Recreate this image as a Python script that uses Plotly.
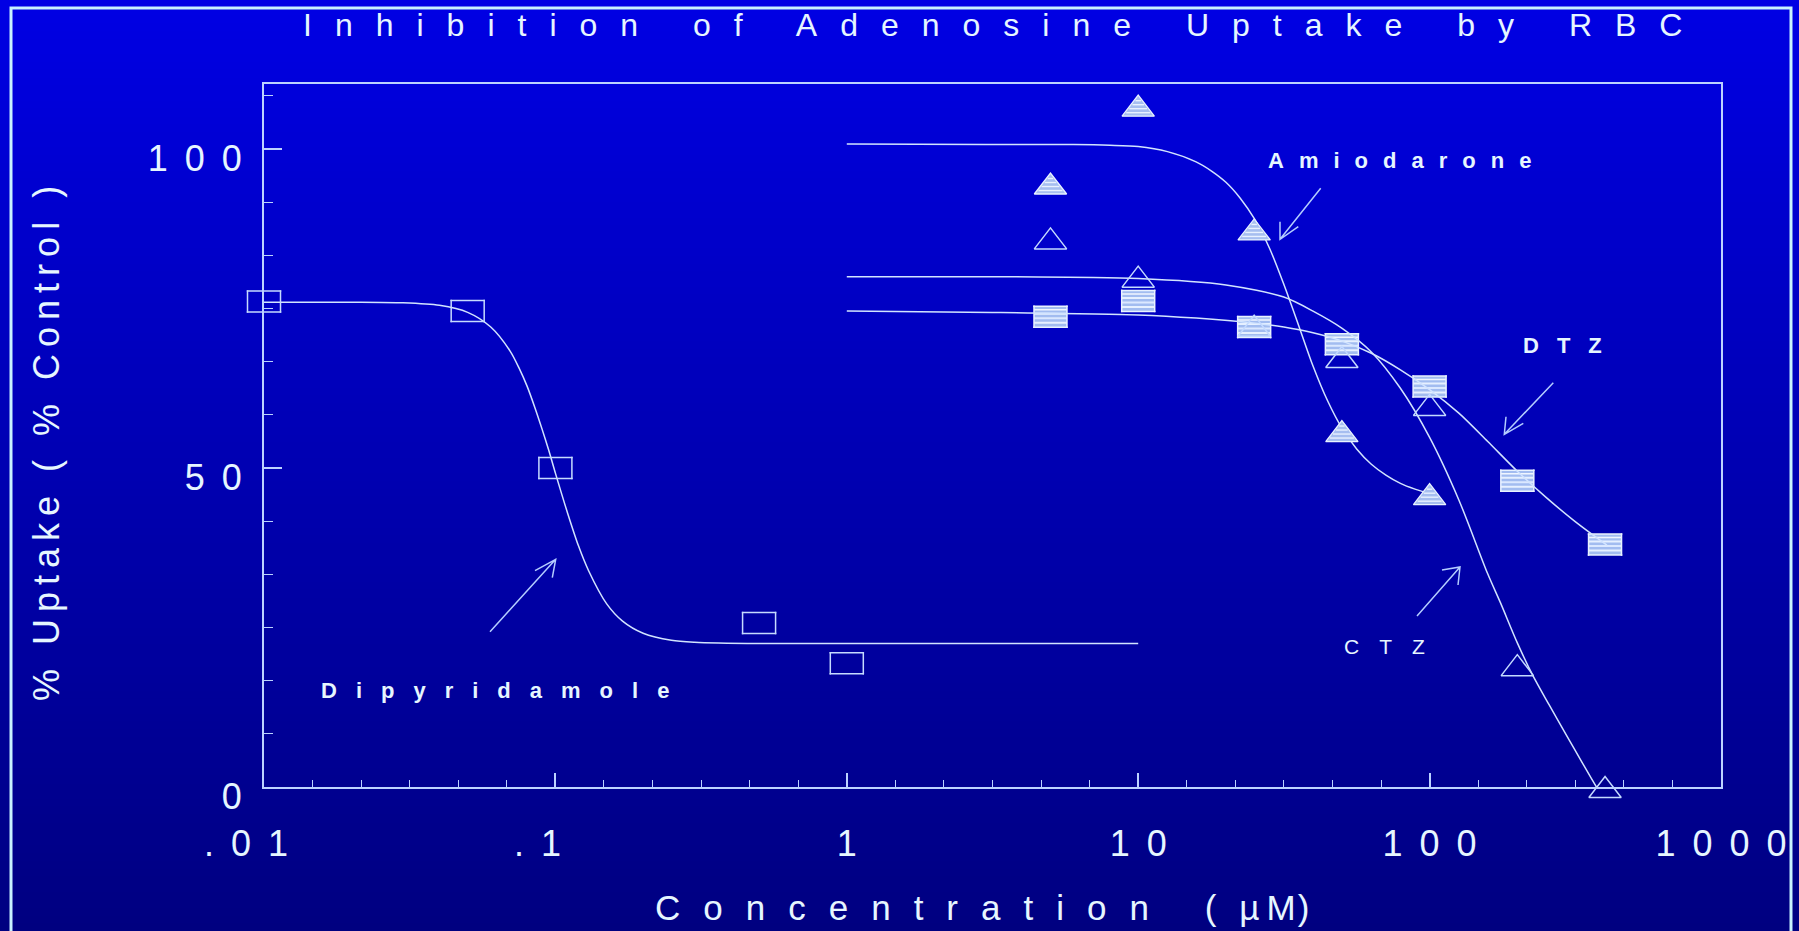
import plotly.graph_objects as go

# ---------------------------------------------------------------- data
# Dipyridamole (open rectangles) and its fitted curve
dip_conc = [0.01, 0.05, 0.1, 0.5, 1.0]
dip_uptake = [76.1, 74.6, 50.0, 25.7, 19.4]
dip_fit_conc = [0.01, 0.02, 0.03, 0.04, 0.05, 0.06, 0.07, 0.075, 0.08, 0.085, 0.09, 0.095,
                0.1, 0.11, 0.12, 0.13, 0.15, 0.17, 0.2, 0.25, 0.3, 0.5, 1.0, 10.0]
dip_fit_uptake = [76.0, 76.0, 75.9, 75.5, 74.4, 72.1, 68.3, 65.7, 62.8, 59.5, 56.1, 52.7,
                  49.2, 43.0, 37.8, 33.9, 28.7, 26.0, 24.1, 23.0, 22.7, 22.5, 22.5, 22.5]

# Amiodarone (filled triangles)
ami_conc = [5, 10, 25, 50, 100]
ami_uptake = [94.6, 106.8, 87.4, 55.8, 45.9]
ami_fit_conc = [1, 3, 6, 8, 10, 12.6, 15.8, 17.8, 20.0, 22.4, 25.1, 28.2, 31.6, 35.5, 39.8,
                44.7, 50.1, 56.2, 63.1, 70.8, 79.4, 89.1, 100]
ami_fit_uptake = [100.8, 100.7, 100.7, 100.6, 100.4, 99.6, 98.0, 96.6, 94.8, 92.3, 89.0, 84.5,
                  78.8, 72.4, 66.0, 60.5, 56.2, 53.0, 50.6, 48.9, 47.6, 46.7, 46.0]

# CTZ (open triangles)
ctz_conc = [5, 10, 25, 50, 100, 200, 400]
ctz_uptake = [86.0, 80.0, 72.3, 67.4, 59.9, 19.1, 0.0]
ctz_fit_conc = [1, 3.16, 10, 20, 31.6, 39.8, 50.1, 63.1, 79.4, 100, 126, 158, 175, 200, 226,
                257, 295, 339, 385, 406]
ctz_fit_uptake = [80.0, 80.0, 79.7, 78.7, 76.8, 74.6, 71.9, 68.2, 62.5, 54.8, 45.0, 33.5, 28.9,
                  22.6, 17.5, 12.9, 8.1, 3.3, -1.0, -2.9]

# DTZ (filled rectangles)
dtz_conc = [5, 10, 25, 50, 100, 200, 400]
dtz_uptake = [73.7, 76.2, 72.1, 69.4, 62.8, 48.0, 38.0]
dtz_fit_conc = [1, 3.16, 10, 15.8, 25.1, 31.6, 39.8, 50.1, 63.1, 79.4, 100, 126, 158, 200,
                251, 316, 406]
dtz_fit_uptake = [74.6, 74.4, 74.0, 73.5, 72.7, 72.1, 71.2, 69.9, 68.0, 65.4, 62.3, 58.6, 54.2,
                  49.5, 45.4, 41.6, 37.9]

# axis ticks
x_tick_vals = [0.01, 0.1, 1, 10, 100, 1000]
x_tick_text = [".01", ".1", "1", "10", "100", "1000"]
y_tick_vals = [0, 50, 100]
y_tick_text = ["0", "50", "100"]

# ---------------------------------------------------------------- layout geometry
W, H = 1799, 931
ML, MR, MT, MB = 264, 78, 84, 144
PW, PH = W - ML - MR, H - MT - MB
X_LOG = (-2, 3)
Y_MAX = 110.2

TXT = "#e6f6ff"
LINE = "#d2e4ff"
FRAME = "#bcd2ff"
FONT = "Liberation Sans, Arial, sans-serif"
LINE_SYM = 1.4   # plotly line-ew symbols are 1.4x their marker size long


def paper(px, py):
    return (px - ML) / PW, (H - MB - py) / PH


def spaced(text, ls, bold=False, trail=False):
    """letter-spaced text; the last glyph carries no trailing space unless asked"""
    body, last = (text, "") if trail else (text[:-1], text[-1])
    s = f'<span style="letter-spacing:{ls}px">{body}</span>{last}'
    return f"<b>{s}</b>" if bold else s


def bar(xs, ys, length, color, width, offset=(0, 0)):
    """horizontal / vertical bars drawn with the line-ew symbol, offset from the point in px.
    offset = (dx, dy): only one of them non-zero; dy>0 moves down, dx>0 moves right."""
    dx, dy = offset
    if dx:
        angle, standoff = (270, dx) if dx > 0 else (90, -dx)
    else:
        angle, standoff = (0, dy) if dy >= 0 else (180, -dy)
    return go.Scatter(x=xs, y=ys, mode="markers", cliponaxis=False, hoverinfo="skip",
                      marker=dict(symbol="line-ew", size=length / LINE_SYM, color=color,
                                  angle=angle, standoff=standoff,
                                  line=dict(color=color, width=width)))


# rectangle markers (width x height in px)
RW, RH = 33, 21


def rect_traces(xs, ys, edge_color, edge_w, fill=None, stripes=()):
    out = []
    if fill:
        out.append(bar(xs, ys, RW, fill, RH))
    for off, col, w in stripes:
        out.append(bar(xs, ys, RW, col, w, (0, off)))
    out.append(bar(xs, ys, RW + edge_w, edge_color, edge_w, (0, -RH / 2)))
    out.append(bar(xs, ys, RW + edge_w, edge_color, edge_w, (0, RH / 2)))
    out.append(bar(xs, ys, RH + edge_w, edge_color, edge_w, (-RW / 2, 0)))
    out.append(bar(xs, ys, RH + edge_w, edge_color, edge_w, (RW / 2, 0)))
    return out


# triangle markers: plotly's triangle-up sits r/4 above its anchor, so a standoff
# of size/8 pushes it down to centre the glyph on its value
TRI_SIZE = 28
TRI_W, TRI_H = 1.155 * TRI_SIZE, 0.75 * TRI_SIZE


def tri_traces(xs, ys, color, filled, stripe_color=None):
    marker = dict(symbol="triangle-up" if filled else "triangle-up-open", size=TRI_SIZE,
                  angle=0, standoff=TRI_SIZE / 8, color=color,
                  line=dict(color="#e8f2ff" if filled else color, width=1.3 if filled else 1.5))
    out = [go.Scatter(x=xs, y=ys, mode="markers", cliponaxis=False, hoverinfo="skip",
                      marker=marker)]
    if filled:
        for d in (7, 3, -1, -5):          # px below the centre
            t = TRI_H / 2 - d                # distance above the base
            w = TRI_W * (1 - t / TRI_H) - 3
            out.append(bar(xs, ys, w, stripe_color, 1.4, (0, d)))
    return out


fig = go.Figure()
curve_style = dict(color=LINE, width=1.5, shape="spline", smoothing=0.8)

fig.add_trace(go.Scatter(x=dip_fit_conc, y=dip_fit_uptake, mode="lines", line=curve_style))

for tr in rect_traces(dtz_conc, dtz_uptake, "#e8f2ff", 1.5, fill="#a2bcf0",
                      stripes=[(6, "#e6f0ff", 2), (1.5, "#dbe8ff", 2),
                               (-3, "#e6f0ff", 2), (-7, "#f0f6ff", 1.5)]):
    fig.add_trace(tr)
for tr in rect_traces(dip_conc, dip_uptake, "#c6dbff", 1.5):
    fig.add_trace(tr)

fig.add_trace(go.Scatter(x=ami_fit_conc, y=ami_fit_uptake, mode="lines", line=curve_style))
fig.add_trace(go.Scatter(x=ctz_fit_conc, y=ctz_fit_uptake, mode="lines", line=curve_style))
fig.add_trace(go.Scatter(x=dtz_fit_conc, y=dtz_fit_uptake, mode="lines", line=curve_style))

for tr in tri_traces(ami_conc, ami_uptake, "#a6bef0", True, stripe_color="#e8f1ff"):
    fig.add_trace(tr)
for tr in tri_traces(ctz_conc, ctz_uptake, "#c4daff", False):
    fig.add_trace(tr)

# ---------------------------------------------------------------- background, frame, arrows
shapes = []
N_BANDS = 120
top_rgb, bot_rgb = (0, 0, 228), (0, 0, 128)
x_left, x_right = paper(0, 0)[0], paper(W, 0)[0]
for i in range(N_BANDS):
    t = (i + 0.5) / N_BANDS
    c = tuple(round(a + (b - a) * t) for a, b in zip(top_rgb, bot_rgb))
    y_top = paper(0, H * i / N_BANDS)[1]
    y_bot = paper(0, H * (i + 1) / N_BANDS + 1)[1]
    shapes.append(dict(type="rect", xref="paper", yref="paper", x0=x_left, x1=x_right,
                       y0=y_bot, y1=y_top, fillcolor=f"rgb{c}", line=dict(width=0),
                       layer="below"))

bx0, by0 = paper(11, 8)
bx1, by1 = paper(1791, 950)
shapes.append(dict(type="rect", xref="paper", yref="paper", x0=bx0, x1=bx1, y0=by1, y1=by0,
                   line=dict(color="#c8f2ff", width=3), layer="above"))


def arrow_path(tail, tip, arm1, arm2):
    (ax, ay), (tx, ty), (a1x, a1y), (a2x, a2y) = [paper(*p) for p in (tail, tip, arm1, arm2)]
    return f"M{ax},{ay} L{tx},{ty} M{a1x},{a1y} L{tx},{ty} L{a2x},{a2y}"


arrows = [
    ((1320.7, 188.3), (1280.0, 239.3), (1280.0, 221.7), (1298.3, 226.7)),   # Amiodarone
    ((1553.3, 382.7), (1504.3, 434.3), (1506.0, 416.7), (1523.3, 423.3)),   # DTZ
    ((1417.0, 616.0), (1460.0, 567.0), (1442.0, 570.0), (1458.0, 585.0)),   # CTZ
    ((490.0, 631.7), (555.7, 559.3), (535.0, 570.7), (552.3, 577.7)),       # Dipyridamole
]
for a in arrows:
    shapes.append(dict(type="path", xref="paper", yref="paper", path=arrow_path(*a),
                       line=dict(color="#b4cdff", width=1.5), layer="above"))

# ---------------------------------------------------------------- text
annotations = []


def add_text(html, px, py, size, angle=0):
    x, y = paper(px, py)
    annotations.append(dict(text=html, x=x, y=y, xref="paper", yref="paper",
                            xanchor="center", yanchor="middle", showarrow=False,
                            textangle=angle, font=dict(family=FONT, size=size, color=TXT)))


add_text(spaced("Inhibition of Adenosine Uptake by RBC", 23), 992, 25, 32)
add_text(spaced("% Uptake ( % Control )", 7), 46, 443, 36, angle=-90)
add_text(spaced("Concentration (", 23, trail=True) + "µ\u2009" + spaced("M)", 2), 982, 907, 35)
add_text(spaced("Amiodarone", 15, bold=True), 1399, 160, 22)
add_text(spaced("DTZ", 18, bold=True), 1562, 345, 22)
add_text(spaced("CTZ", 20), 1384, 646, 21)
add_text(spaced("Dipyridamole", 19, bold=True), 495, 690, 22)

minor_x = [10 ** (d + k / 6) for d in range(X_LOG[0], X_LOG[1]) for k in range(1, 6)]
minor_y = [k * 50 / 6 for k in range(1, 14) if k % 6]

tick_font = dict(family=FONT, size=36, color=TXT)
x_labels = [spaced(t, 17) + ("\u2002\u2002" if t.startswith(".") else "") for t in x_tick_text]

fig.update_layout(
    width=W, height=H,
    margin=dict(l=ML, r=MR, t=MT, b=MB, pad=0, autoexpand=False),
    paper_bgcolor="#0000b0",
    plot_bgcolor="rgba(0,0,0,0)",
    showlegend=False,
    shapes=shapes,
    annotations=annotations,
    xaxis=dict(
        type="log", range=list(X_LOG), showgrid=False, zeroline=False, automargin=False,
        showline=True, linecolor=FRAME, linewidth=2, mirror=True,
        tickmode="array", tickvals=x_tick_vals, ticktext=x_labels,
        ticks="inside", ticklen=14, tickwidth=1.5, tickcolor=FRAME,
        tickfont=tick_font, ticklabelstandoff=24, ticklabeloverflow="allow",
        minor=dict(tickmode="array", tickvals=minor_x, ticks="inside", ticklen=7,
                   tickwidth=1.2, tickcolor=FRAME, showgrid=False),
    ),
    yaxis=dict(
        range=[0, Y_MAX], showgrid=False, zeroline=False, automargin=False,
        showline=True, linecolor=FRAME, linewidth=2, mirror=True,
        tickmode="array", tickvals=y_tick_vals,
        ticktext=[spaced(t, 17) for t in y_tick_text],
        ticks="inside", ticklen=18, tickwidth=1.5, tickcolor=FRAME,
        tickfont=tick_font, ticklabelstandoff=13, ticklabelshift=9,
        ticklabeloverflow="allow",
        minor=dict(tickmode="array", tickvals=minor_y, ticks="inside", ticklen=9,
                   tickwidth=1.2, tickcolor=FRAME, showgrid=False),
    ),
)

fig.write_html("out.html")
